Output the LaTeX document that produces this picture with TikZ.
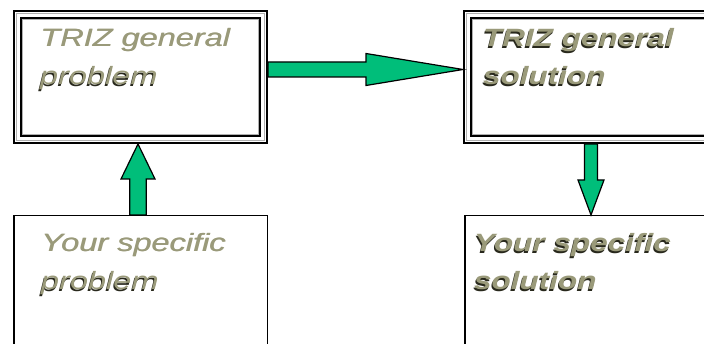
\documentclass[tikz,border=0pt]{standalone}
\usepackage{fontspec}
\setmainfont{Liberation Sans}
\usetikzlibrary{calc}

\definecolor{arrowgreen}{RGB}{0,190,122}
\definecolor{labelolive}{RGB}{154,154,122}
\definecolor{labelshade}{RGB}{40,40,28}
\definecolor{rulegray}{RGB}{175,175,175}

\tikzset{
  box/.style={draw=black, line width=1.5pt, fill=white, inner sep=0pt, anchor=north west},
  framebox/.style={box, line width=2.2pt},
  fat/.style={draw=black, line width=1.2pt, fill=arrowgreen, line join=miter},
  lbl/.style={anchor=base west, inner sep=0pt, text=labelolive,
              font=\fontsize{25}{30}\selectfont\itshape},
  lblbold/.style={lbl, font=\fontsize{25}{30}\selectfont\itshape\bfseries},
  lbldark/.style={text=labelshade},
}

% plain label, set twice side by side for a slightly heavier stroke: name, position, text
\newcommand\plainlabel[3]{%
  \node[lbl] (#1w) at ($(#2)+(0.6,0)$) {\scalebox{1.3}[1]{#3}};
  \node[lbl] (#1) at (#2) {\scalebox{1.3}[1]{#3}};}
% label with a dark drop shadow: name, position, style, x-stretch, text
\newcommand\shadedlabel[5]{%
  \node[#3, lbldark] (#1s) at ($(#2)+(-1,1.2)$) {\scalebox{#4}[1]{#5}};
  \node[#3] (#1) at (#2) {\scalebox{#4}[1]{#5}};}
% broad outlined arrow: start, tip, shaft half width, head half width, head length
\newcommand\fatarrow[5]{%
  \coordinate (hb) at ($(#2)!#5!(#1)$);
  \draw[fat] ($(#1)!#3!90:(#2)$) -- ($(hb)!#3!90:(#2)$) -- ($(hb)!#4!90:(#2)$)
    -- (#2) -- ($(hb)!#4!-90:(#2)$) -- ($(hb)!#3!-90:(#2)$) -- ($(#1)!#3!-90:(#2)$) -- cycle;}

\begin{document}
\begin{tikzpicture}[x=1pt, y=-1pt]
  \useasboundingbox (0,0) rectangle (704,344);
  \clip (0,0) rectangle (704,344);
  \fill[white] (0,0) rectangle (704,344);

  % boxes
  \node[framebox, minimum width=252.8pt, minimum height=131.8pt] (b1) at (13,10) {};
  \node[framebox, minimum width=340pt, minimum height=131.8pt] (b2) at (463,10) {};
  \node[box, minimum width=253.5pt, minimum height=200pt] (b3) at (13,215) {};
  \node[box, minimum width=340pt, minimum height=200pt] (b4) at (464,215) {};

  % inner rules of the framed boxes
  \foreach \n in {b1,b2} {
    \draw[rulegray, line width=1.5pt]
      ([shift={(3.6,3.6)}]\n.north west) rectangle ([shift={(-3.6,-3.6)}]\n.south east);
    \draw[black, line width=2pt]
      ([shift={(7.6,7.6)}]\n.north west) rectangle ([shift={(-7.6,-7.6)}]\n.south east);
    \draw[rulegray, line width=1.2pt]
      ([shift={(9.4,9.4)}]\n.north west) rectangle ([shift={(-9.4,-9.4)}]\n.south east);
  }

  % connectors
  \coordinate (upS) at (138,0 |- b3.north);
  \coordinate (upT) at (138,0 |- b1.south);
  \coordinate (rtS) at (b1.east |- 0,69.5);
  \coordinate (rtT) at (b2.west |- 0,69.5);
  \coordinate (dnS) at (591,0 |- b2.south);
  \coordinate (dnT) at (591,0 |- b4.north);
  \fatarrow{upS}{upT}{8.3pt}{17pt}{35pt}
  \fatarrow{rtS}{rtT}{7.5pt}{16pt}{97pt}
  \fatarrow{dnS}{dnT}{6.5pt}{13pt}{35pt}

  % labels
  \plainlabel{t1a}{40,47}{TRIZ general}
  \shadedlabel{t1b}{40,85}{lbl}{1.3}{problem}
  \shadedlabel{t2a}{483,47}{lblbold}{1.26}{TRIZ general}
  \shadedlabel{t2b}{483,85}{lblbold}{1.26}{solution}
  \plainlabel{t3a}{41,252}{Your specific}
  \shadedlabel{t3b}{41,290}{lbl}{1.3}{problem}
  \shadedlabel{t4a}{474,252}{lblbold}{1.26}{Your specific}
  \shadedlabel{t4b}{474,290}{lblbold}{1.26}{solution}
\end{tikzpicture}
\end{document}
